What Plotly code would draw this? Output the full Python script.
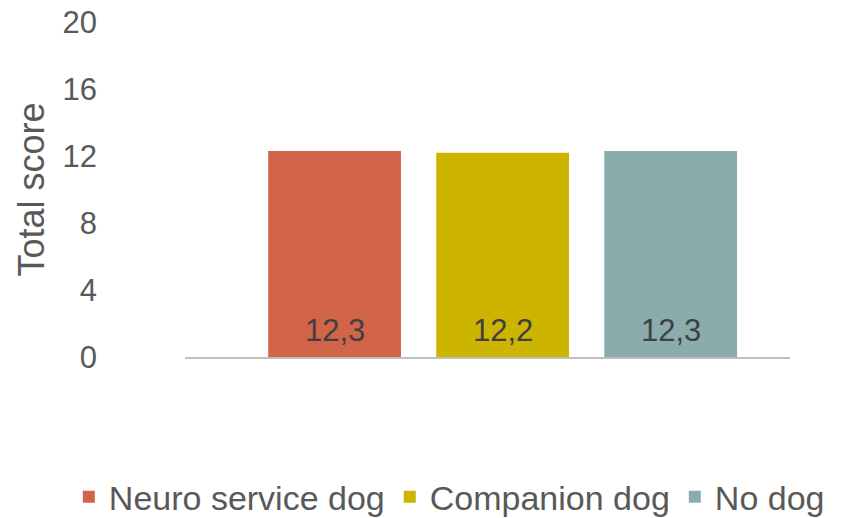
import plotly.graph_objects as go

groups = ["Neuro service dog", "Companion dog", "No dog"]
scores = [12.3, 12.2, 12.3]
colors = ["#D2644A", "#CDB400", "#8BACAD"]
y_ticks = [0, 4, 8, 12, 16, 20]

FONT = "Liberation Sans, Arial, sans-serif"

fig = go.Figure()
for g, v, c in zip(groups, scores, colors):
    fig.add_trace(go.Bar(
        x=[g], y=[v], name=g, marker=dict(color=c, line=dict(width=0)),
        width=0.79,
    ))
    # value label near the base of each bar
    fig.add_annotation(
        x=g, y=0, xref="x", yref="y", text=f"{v:.1f}".replace(".", ","),
        showarrow=False, yanchor="middle", yshift=27,
        font=dict(family=FONT, size=31, color="#404040"),
    )

fig.update_layout(
    width=842, height=518,
    margin=dict(l=185, r=52, t=22, b=161, autoexpand=False),
    paper_bgcolor="white", plot_bgcolor="white",
    barmode="overlay",
    font=dict(family=FONT, color="#595959"),
    showlegend=True,
    legend=dict(
        orientation="h", xref="paper", yref="paper",
        x=-0.192, xanchor="left", y=-0.418, yanchor="middle",
        font=dict(family=FONT, size=34, color="#595959"),
        itemwidth=30, tracegroupgap=0,
    ),
    xaxis=dict(
        type="category", range=[-0.89, 2.71],
        showticklabels=False, showgrid=False, zeroline=False,
        showline=True, linecolor="#BFBFBF", linewidth=2, ticks="",
    ),
    yaxis=dict(
        range=[0, 20], tickvals=y_ticks, showgrid=False, zeroline=False,
        showline=False, ticks="", ticklabeloverflow="allow",
        tickfont=dict(family=FONT, size=31, color="#595959"),
        ticklabelstandoff=87,
        title=dict(text="Total score", font=dict(family=FONT, size=36, color="#595959"), standoff=6),
    ),
)

fig.write_html("out.html", config={"displayModeBar": False},
               post_script="document.body.style.margin='0';")
